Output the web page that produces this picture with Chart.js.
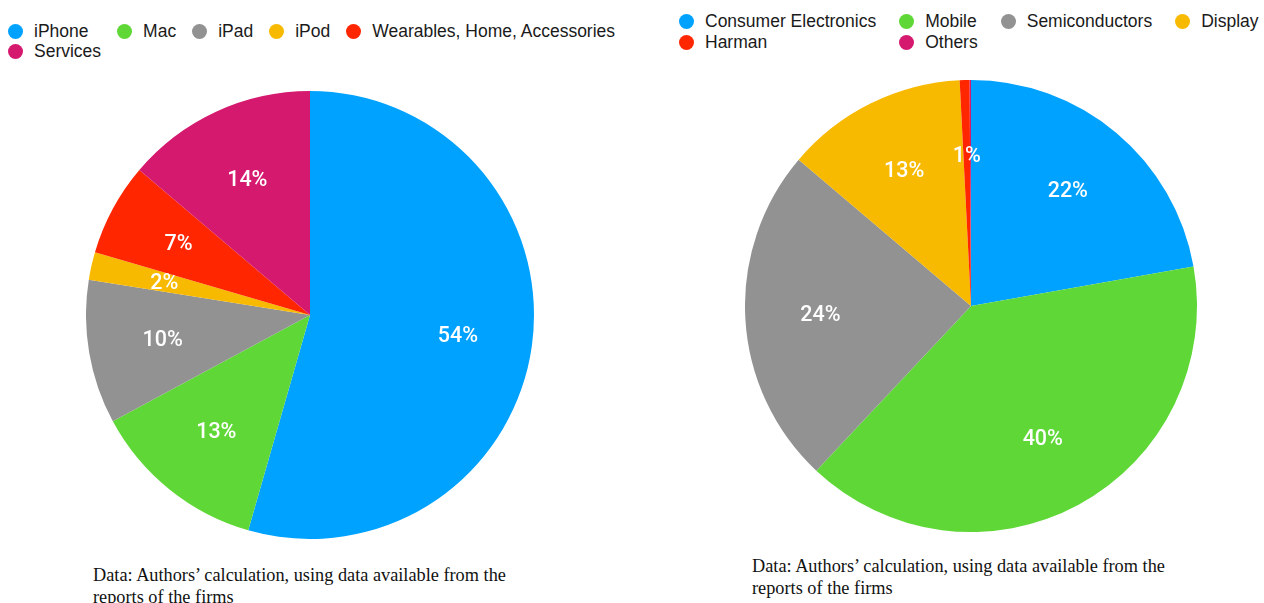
<!DOCTYPE html>
<html>
<head>
<meta charset="utf-8">
<script src="https://cdn.jsdelivr.net/npm/chart.js@4"></script>
<style>
  body { margin: 0; background: #fff; width: 1264px; height: 603px; position: relative; overflow: hidden; }
  .legend {
    position: absolute; display: grid; align-items: center;
    font-family: "Liberation Sans", Arial, Helvetica, sans-serif; font-size: 17.5px; color: #1a1a1a;
  }
  .legend .item { display: flex; align-items: center; white-space: nowrap; }
  .legend .dot { width: 15px; height: 15px; border-radius: 50%; margin-right: 11px; flex: none; }
  .pie { position: absolute; }
  .note {
    position: absolute; font-family: "Liberation Serif", "Times New Roman", serif;
    font-size: 18.3px; line-height: 22px; color: #111; white-space: nowrap;
  }
</style>
</head>
<body>
<div id="appleLegend" class="legend" style="left:8px; top:21px; grid-template-columns: repeat(5, auto); column-gap: 16px; grid-auto-rows: 20px;"></div>
<div id="samsungLegend" class="legend" style="left:679px; top:11px; grid-template-columns: repeat(4, auto); column-gap: 23px; grid-auto-rows: 21px;"></div>

<div class="pie" style="left:86px; top:91px;"><canvas id="appleChart" width="448" height="448"></canvas></div>
<div class="pie" style="left:745px; top:80px;"><canvas id="samsungChart" width="452" height="452"></canvas></div>

<div class="note" style="left:93px; top:564px;">Data: Authors’ calculation, using data available from the<br>reports of the firms</div>
<div class="note" style="left:752px; top:555px;">Data: Authors’ calculation, using data available from the<br>reports of the firms</div>

<script>
// Apple revenue shares (%)
const appleSegments = ['iPhone', 'Mac', 'iPad', 'iPod', 'Wearables, Home, Accessories', 'Services'];
const appleShares = [54.5, 12.7, 10.4, 2.0, 6.7, 13.8];
const appleColors = ['#00A2FF', '#5FD837', '#929292', '#F8BA00', '#FF2600', '#D5196F'];

// Samsung revenue shares (%)
const samsungSegments = ['Consumer Electronics', 'Mobile', 'Semiconductors', 'Display', 'Harman', 'Others'];
const samsungShares = [22.2, 39.8, 24.2, 13.0, 0.7, 0.1];
const samsungColors = ['#00A2FF', '#5FD837', '#929292', '#F8BA00', '#FF2600', '#D5196F'];

// white percentage labels at 2/3 of the radius
const sliceLabels = {
  id: 'sliceLabels',
  afterDatasetsDraw(chart) {
    const ctx = chart.ctx;
    const values = chart.data.datasets[0].data;
    const total = values.reduce((a, b) => a + b, 0);
    const arcs = chart.getDatasetMeta(0).data;
    ctx.save();
    ctx.fillStyle = '#fff';
    ctx.font = '500 21.5px Roboto, "Liberation Sans", Arial, sans-serif';
    ctx.textAlign = 'center';
    ctx.textBaseline = 'middle';
    arcs.forEach((arc, i) => {
      const pct = Math.round(values[i] / total * 100);
      if (pct < 1) return;
      const { x, y, startAngle, endAngle, outerRadius } = arc.getProps(['x', 'y', 'startAngle', 'endAngle', 'outerRadius'], true);
      const mid = (startAngle + endAngle) / 2;
      const r = outerRadius * 0.667;
      ctx.fillText(pct + '%', x + Math.cos(mid) * r, y + Math.sin(mid) * r + 1);
    });
    ctx.restore();
  }
};

// legend built from the chart's own labels, laid out as a grid
const htmlLegend = {
  id: 'htmlLegend',
  afterUpdate(chart, args, opts) {
    const box = document.getElementById(opts.containerID);
    box.innerHTML = '';
    const items = chart.options.plugins.legend.labels.generateLabels(chart);
    items.forEach(item => {
      const el = document.createElement('div');
      el.className = 'item';
      const dot = document.createElement('span');
      dot.className = 'dot';
      dot.style.background = item.fillStyle;
      el.appendChild(dot);
      el.appendChild(document.createTextNode(item.text));
      box.appendChild(el);
    });
  }
};

function makePie(id, labels, data, colors, legendId) {
  const ctx = document.getElementById(id).getContext('2d');
  return new Chart(ctx, {
    type: 'pie',
    data: {
      labels: labels,
      datasets: [{
        data: data,
        backgroundColor: colors,
        borderWidth: 0,
        hoverOffset: 0
      }]
    },
    options: {
      responsive: false,
      animation: false,
      layout: { padding: 0 },
      plugins: {
        legend: { display: false },
        tooltip: { enabled: false },
        htmlLegend: { containerID: legendId }
      }
    },
    plugins: [sliceLabels, htmlLegend]
  });
}

makePie('appleChart', appleSegments, appleShares, appleColors, 'appleLegend');
makePie('samsungChart', samsungSegments, samsungShares, samsungColors, 'samsungLegend');
</script>
</body>
</html>
